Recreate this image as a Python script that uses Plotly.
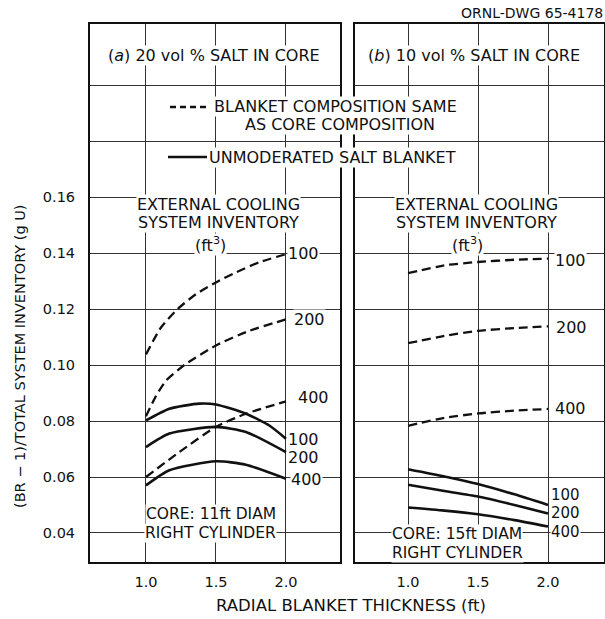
import plotly.graph_objects as go

# ---------------- data ----------------
# (a) 20 vol % salt in core, 11 ft diameter core
a_dash_100_x = [1.0, 1.107, 1.226, 1.357, 1.5, 1.643, 1.81, 2.0]
a_dash_100_y = [0.1038, 0.1134, 0.1200, 0.1253, 0.1295, 0.1331, 0.1367, 0.1396]
a_dash_200_x = [1.0, 1.071, 1.143, 1.274, 1.5, 1.738, 2.0]
a_dash_200_y = [0.0817, 0.0889, 0.0944, 0.1000, 0.1070, 0.1122, 0.1163]
a_dash_400_x = [1.0, 1.238, 1.5, 1.714, 2.0]
a_dash_400_y = [0.0600, 0.0689, 0.0779, 0.0826, 0.0870]

a_solid_100_x = [1.0, 1.167, 1.381, 1.5, 1.714, 1.881, 2.0]
a_solid_100_y = [0.0802, 0.0844, 0.0862, 0.0859, 0.0826, 0.0784, 0.0737]
a_solid_200_x = [1.0, 1.167, 1.5, 1.714, 2.0]
a_solid_200_y = [0.0707, 0.0755, 0.0779, 0.0761, 0.0689]
a_solid_400_x = [1.0, 1.167, 1.5, 1.714, 2.0]
a_solid_400_y = [0.0570, 0.0624, 0.0656, 0.0644, 0.0594]

# (b) 10 vol % salt in core, 15 ft diameter core
b_x = [1.0, 1.26, 1.5, 1.76, 2.0]
b_dash_100_y = [0.1328, 0.1356, 0.1368, 0.1376, 0.1380]
b_dash_200_y = [0.1078, 0.1104, 0.1122, 0.1132, 0.1138]
b_dash_400_y = [0.0783, 0.0811, 0.0827, 0.0837, 0.0843]
b_solid_100_y = [0.0628, 0.0602, 0.0575, 0.0538, 0.0500]
b_solid_200_y = [0.0572, 0.0550, 0.0530, 0.0500, 0.0470]
b_solid_400_y = [0.0491, 0.0480, 0.0467, 0.0446, 0.0423]

inventory_labels = ["100", "200", "400"]

x_tick_vals = [1.0, 1.5, 2.0]
x_tick_text = ["1.0", "1.5", "2.0"]
y_tick_vals = [0.04, 0.06, 0.08, 0.10, 0.12, 0.14, 0.16]
y_tick_text = ["0.04", "0.06", "0.08", "0.10", "0.12", "0.14", "0.16"]
y_upper_grid = [0.18, 0.20]   # unlabeled rules in the key / heading area

# ---------------- figure ----------------
W, H = 605, 619
FONT = "DejaVu Sans"
INK = "#111111"
GRID = "#333333"
LBL = 16  # lettering size for the in-plot notes


def px_x(p):
    return p / W


def px_y(p):
    return 1 - p / H


fig = go.Figure()

DASH = "9px,5px"
panels = [
    ("x", "y",
     [(a_dash_100_x, a_dash_100_y), (a_dash_200_x, a_dash_200_y), (a_dash_400_x, a_dash_400_y)],
     [(a_solid_100_x, a_solid_100_y), (a_solid_200_x, a_solid_200_y), (a_solid_400_x, a_solid_400_y)]),
    ("x2", "y2",
     [(b_x, b_dash_100_y), (b_x, b_dash_200_y), (b_x, b_dash_400_y)],
     [(b_x, b_solid_100_y), (b_x, b_solid_200_y), (b_x, b_solid_400_y)]),
]

for xa, ya, dashed, solid in panels:
    for (xs, ys), lab in zip(dashed, inventory_labels):
        fig.add_trace(go.Scatter(
            x=xs, y=ys, xaxis=xa, yaxis=ya, mode="lines", name=lab,
            line=dict(color=INK, width=2.3, dash=DASH, shape="spline", smoothing=0.6),
            showlegend=False, hoverinfo="skip"))
    for (xs, ys), lab in zip(solid, inventory_labels):
        fig.add_trace(go.Scatter(
            x=xs, y=ys, xaxis=xa, yaxis=ya, mode="lines", name=lab,
            line=dict(color=INK, width=2.6, shape="spline", smoothing=0.6),
            showlegend=False, hoverinfo="skip"))

y_dom = [1 - 562 / H, 1 - 24 / H]
y_rng = [0.02964, 0.2218]

axis_common = dict(
    showline=True, mirror=True, linecolor=INK, linewidth=2,
    showgrid=True, gridcolor=GRID, gridwidth=1,
    zeroline=False, ticks="", tickfont=dict(family=FONT, size=14.5, color=INK),
    fixedrange=True,
)
y_minor = dict(tickvals=y_upper_grid, showgrid=True, gridcolor=GRID, gridwidth=1,
               ticks="")

fig.update_layout(
    width=W, height=H,
    margin=dict(l=0, r=0, t=0, b=0),
    paper_bgcolor="white", plot_bgcolor="white",
    font=dict(family=FONT, color=INK),
    xaxis=dict(domain=[90 / W, 340 / W], range=[0.6, 2.386], ticklabelstandoff=6,
               tickvals=x_tick_vals, ticktext=x_tick_text, anchor="y", **axis_common),
    yaxis=dict(domain=y_dom, range=y_rng, ticklabelstandoff=10, minor=y_minor,
               tickvals=y_tick_vals, ticktext=y_tick_text, anchor="x", **axis_common),
    xaxis2=dict(domain=[355 / W, 604 / W], range=[0.621, 2.4], ticklabelstandoff=6,
                tickvals=x_tick_vals, ticktext=x_tick_text, anchor="y2", **axis_common),
    yaxis2=dict(domain=y_dom, range=y_rng, minor=y_minor,
                tickvals=y_tick_vals, showticklabels=False, anchor="x2", **axis_common),
)

ann = []


def text(x, y, s, xref="x", yref="y", size=LBL, xanchor="center", yanchor="middle",
         bg="white", align="center", angle=0):
    ann.append(dict(x=x, y=y, xref=xref, yref=yref, text=s, showarrow=False,
                    font=dict(family=FONT, size=size, color=INK),
                    xanchor=xanchor, yanchor=yanchor, bgcolor=bg, align=align,
                    borderpad=0, textangle=angle))


# panel headings
text(1.486, 0.2105, "(<i>a</i>) 20 vol % SALT IN CORE")
text(1.471, 0.2105, "(<i>b</i>) 10 vol % SALT IN CORE", xref="x2", yref="y2")

# inventory headings inside each panel
for xr, yr, cx in (("x", "y", 1.52), ("x2", "y2", 1.486)):
    text(cx, 0.1574, "EXTERNAL COOLING", xref=xr, yref=yr)
    text(cx, 0.1510, "SYSTEM INVENTORY", xref=xr, yref=yr)
    text(cx - 0.06, 0.1432, "(ft<sup>3</sup>)", xref=xr, yref=yr)

# curve labels, panel (a)
text(2.007, 0.1400, "100", xanchor="left")
text(2.05, 0.1163, "200", xanchor="left")
text(2.08, 0.0884, "400", xanchor="left")
text(2.007, 0.0734, "100", xanchor="left")
text(2.007, 0.0669, "200", xanchor="left")
text(2.03, 0.0590, "400", xanchor="left")

# curve labels, panel (b)
text(2.043, 0.1375, "100", xref="x2", yref="y2", xanchor="left")
text(2.05, 0.1134, "200", xref="x2", yref="y2", xanchor="left")
text(2.043, 0.0843, "400", xref="x2", yref="y2", xanchor="left")
text(2.014, 0.0535, "100", xref="x2", yref="y2", xanchor="left", size=15)
text(2.014, 0.0470, "200", xref="x2", yref="y2", xanchor="left", size=15)
text(2.014, 0.0405, "400", xref="x2", yref="y2", xanchor="left", size=15)

# core descriptions
text(1.464, 0.0467, "CORE: 11ft DIAM", size=15.5)
text(1.464, 0.0400, "RIGHT CYLINDER", size=15.5)
text(1.35, 0.0396, "CORE: 15ft DIAM", xref="x2", yref="y2", size=15.5)
text(1.35, 0.0330, "RIGHT CYLINDER", xref="x2", yref="y2", size=15.5)

# key for the two line styles
text(px_x(213), px_y(107), "BLANKET COMPOSITION SAME", xref="paper", yref="paper",
     xanchor="left")
text(px_x(340), px_y(125), "AS CORE COMPOSITION", xref="paper", yref="paper")
text(px_x(208), px_y(157), "UNMODERATED SALT BLANKET", xref="paper", yref="paper",
     xanchor="left")

# axis titles and drawing number
text(px_x(351), px_y(605), "RADIAL BLANKET THICKNESS (ft)", xref="paper", yref="paper",
     size=16.5, bg=None)
text(px_x(20), px_y(356), "(BR \u2212 1)/TOTAL SYSTEM INVENTORY (g U)", xref="paper",
     yref="paper", size=14.5, angle=-90, bg=None)
text(px_x(604), px_y(13), "ORNL-DWG 65-4178", xref="paper", yref="paper", size=14,
     xanchor="right", bg=None)

fig.update_layout(annotations=ann)

# line-style samples for the key
fig.add_shape(type="line", xref="paper", yref="paper",
              x0=px_x(170), x1=px_x(209), y0=px_y(107), y1=px_y(107),
              line=dict(color=INK, width=2.3, dash="6px,4px"))
fig.add_shape(type="line", xref="paper", yref="paper",
              x0=px_x(168), x1=px_x(207), y0=px_y(157), y1=px_y(157),
              line=dict(color=INK, width=2.6))

fig.write_html("out.html")
